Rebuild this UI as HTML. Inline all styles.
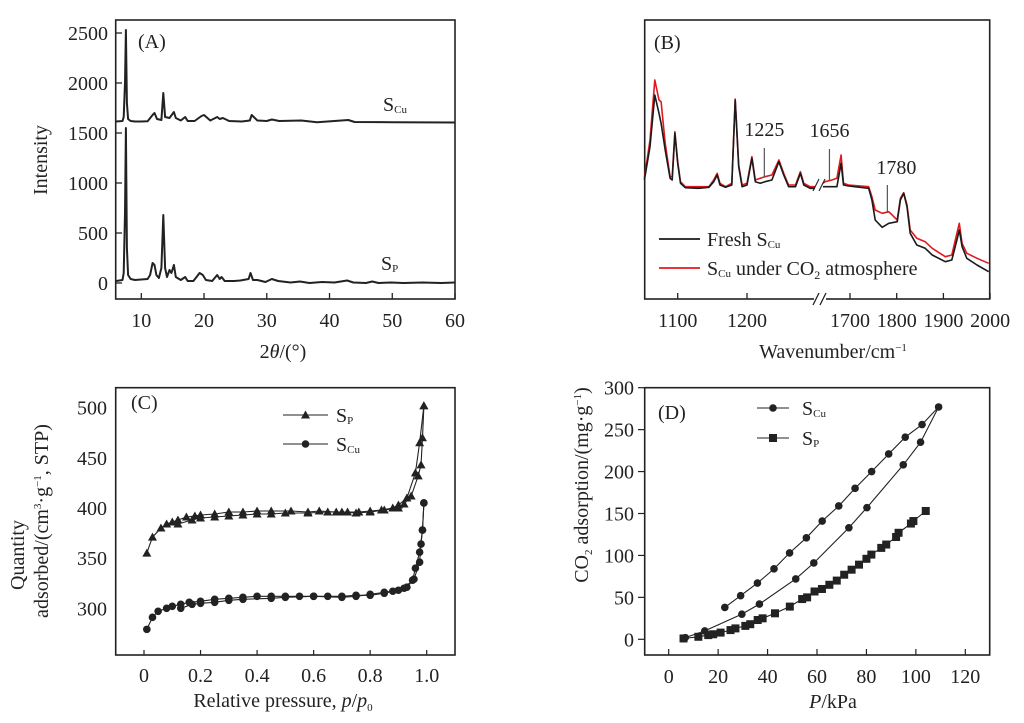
<!DOCTYPE html>
<html><head><meta charset="utf-8"><style>
html,body{margin:0;padding:0;background:#fff;}
svg{display:block;font-family:"Liberation Serif",serif;}
</style></head><body>
<svg id="fig" width="1024" height="723" viewBox="0 0 1024 723" xmlns="http://www.w3.org/2000/svg"></svg>
<script>
// ---------- Panel A data (XRD) ----------
const aTicksX=[10,20,30,40,50,60];
const aTicksY=[0,500,1000,1500,2000,2500];
const spTheta=[6,7,7.2,7.4,7.55,7.7,7.9,8.3,9,10,11,11.4,11.8,12.1,12.4,12.8,13.2,13.5,13.8,14.1,14.5,14.8,15.2,15.5,16.3,17,17.4,18.3,19.3,19.8,20.3,21.3,22.1,22.5,22.8,23.3,24.8,25.8,27.1,27.4,27.8,28.5,29.8,30.8,31.8,33.8,35.3,36.8,38.8,40.8,42.8,43.8,45.8,46.8,47.8,49.8,51.8,54.8,57.8,60];
const spInt=[20,30,100,700,1550,350,80,40,30,35,40,80,200,180,80,50,150,680,150,60,130,100,180,60,30,60,20,20,100,80,30,20,80,40,60,20,20,25,40,100,30,30,10,40,20,5,15,0,10,5,25,5,0,15,0,5,0,5,0,5];
const scuTheta=[6,7,7.2,7.4,7.55,7.7,7.9,8.3,9,10,11,11.8,12.1,12.5,13.2,13.5,13.8,14.5,15.2,15.5,16.3,17,17.4,18.5,19.6,20,21,22.1,22.5,23,24,26,27.3,27.6,28.5,30,30.8,32,35.5,38,43,44,50,55,60];
const scuInt=[1615,1620,1660,2000,2530,1800,1640,1620,1615,1615,1618,1680,1700,1640,1630,1900,1660,1650,1710,1650,1625,1660,1620,1620,1670,1680,1625,1660,1640,1650,1620,1615,1625,1680,1625,1620,1635,1620,1625,1608,1630,1610,1608,1606,1605];

// ---------- Panel B data (IR) ----------
const bTickLeft=[1100,1200];
const bTickRight=[1700,1800,1900,2000];
const bLeftWn=[1052,1060,1067,1073,1076,1082,1089,1092,1096,1100,1104,1111,1130,1145,1152,1157,1161,1169,1178,1183,1188,1193,1200,1207,1212,1219,1226,1236,1246,1253,1260,1270,1277,1282,1291,1299];
const bLeftFresh=[36,46,61.5,56,53,45,36.5,36,50,41,35,33.7,33.5,33.8,35.5,37.5,34.5,33.8,34.5,60,40,34,34.5,42.5,35.5,35,35.5,36,41.5,37.5,34,34,38,34.5,33.5,33.5];
const bLeftCO2=[36.5,48,66,60,59.5,47,37,37,50.5,41.5,35.5,34,34,34,36,38,35,34,35,60.3,40.5,34.5,35,43,36,36.5,37,37.5,42,38,34.5,34.5,38.5,35,34,34];
const bRightWn=[1636,1647,1661,1672,1681,1686,1697,1740,1747,1754,1769,1783,1801,1808,1815,1822,1829,1843,1861,1876,1904,1918,1929,1934,1940,1950,1972,1997];
const bRightFresh=[34,34,34,34,41,34.5,34.2,33.5,30,24,21.8,23,23.5,30,32,28,20,16.5,15.5,13.5,11.5,12,18,21,16,12.5,10.5,8.5];
const bRightCO2=[34.5,35.5,36,36.5,43.5,35,34.5,34,31,27,26,26.5,24,30.5,32.2,28.5,21,18.5,17.5,15.5,13,13.5,20,23,17,14,12.5,11];
const bMarks=[1225,1656,1780];

// ---------- Panel C data (N2 isotherms) ----------
const cTicksX=[0,0.2,0.4,0.6,0.8,1.0];
const cTickLabX=["0","0.2","0.4","0.6","0.8","1.0"];
const cTicksY=[300,350,400,450,500];
const spAdsP=[0.01,0.03,0.06,0.08,0.1,0.12,0.15,0.18,0.2,0.25,0.3,0.35,0.4,0.45,0.52,0.58,0.62,0.68,0.72,0.76,0.8,0.84,0.88,0.9,0.93,0.96,0.975,0.99];
const spAdsQ=[355,371,380,384,386,388,391,392,393,394,396,396,397,397,397,396,397,396,396,396,397,398,400,403,410,435,465,502];
const spDesP=[0.99,0.985,0.98,0.97,0.945,0.92,0.9,0.85,0.8,0.75,0.7,0.65,0.58,0.5,0.45,0.4,0.35,0.3,0.25,0.2,0.17,0.12];
const spDesQ=[502,470,443,432,412,404,400,398,396,395,396,396,395,395,394,394,393,392,391,390,388,384];
const cuAdsP=[0.01,0.03,0.05,0.08,0.1,0.13,0.16,0.2,0.25,0.3,0.35,0.4,0.45,0.5,0.55,0.6,0.65,0.7,0.75,0.8,0.85,0.88,0.92,0.95,0.96,0.975,0.985,0.99];
const cuAdsQ=[279,291,297,300,302,304,306,307,309,310,311,312,312,312,312,312,312,312,313,313,315,317,320,328,340,356,378,405];
const cuDesP=[0.99,0.985,0.98,0.975,0.955,0.93,0.9,0.85,0.8,0.75,0.7,0.6,0.5,0.45,0.35,0.3,0.25,0.2,0.17,0.13];
const cuDesQ=[405,378,364,346,329,321,318,316,314,312,311,312,311,310,309,308,306,305,304,300];

// ---------- Panel D data (CO2 adsorption) ----------
const dTicksX=[0,20,40,60,80,100,120];
const dTicksY=[0,50,100,150,200,250,300];
const dCuP=[6.7,14.6,29.6,36.7,51.4,58.7,72.9,80.2,94.9,101.9,109.2,102.5,95.7,89,82.1,75.4,68.8,62.1,55.7,48.9,42.6,35.9,29.1,22.7];
const dCuQ=[2,10,30,42,72,91,133,157,208,235,277,256,241,221,200,180,159,141,121,103,84,67,52,38];
const dPP=[6,12,16,18,21,25,27,31,33,36,38,43,49,54,56,59,62,65,68,71,74,77,80,82,86,88,92,93,98,99,104];
const dPQ=[1,3,5,6,8,11,13,16,18,23,25,31,39,48,50,57,60,65,70,77,83,89,96,101,109,113,122,127,138,141,153];

const NS="http://www.w3.org/2000/svg";
const svg=document.getElementById('fig');
const FS=20;
function mk(tag,attrs,parent){const e=document.createElementNS(NS,tag);for(const k in attrs)e.setAttribute(k,attrs[k]);(parent||svg).appendChild(e);return e;}
function txt(x,y,s,size,anchor,parent,extra){const t=mk('text',Object.assign({x:x,y:y,'font-size':size,'text-anchor':anchor||'middle',fill:'#222'},extra||{}),parent);t.innerHTML=s;return t;}
function lin(d0,d1,r0,r1){return v=>r0+(v-d0)*(r1-r0)/(d1-d0);}
function pathD(xs,ys,fx,fy){return xs.map((v,i)=>(i?'L':'M')+fx(v).toFixed(1)+','+fy(ys[i]).toFixed(1)).join('');}
function box(x0,y0,x1,y1,g){mk('rect',{x:x0,y:y0,width:x1-x0,height:y1-y0,fill:'none',stroke:'#222','stroke-width':1.6},g);}

// ===== Panel A =====
const gA=mk('g',{});


const ax=lin(10,60,141.3,455), ay=lin(0,2500,283,33);
box(115.7,20,455,299,gA);
aTicksX.forEach(v=>{mk('line',{x1:ax(v),x2:ax(v),y1:299,y2:293,stroke:'#222','stroke-width':1.3},gA);const t=txt(ax(v),327,v,FS,'middle',gA);});
aTicksY.forEach(v=>{mk('line',{x1:115.7,x2:122,y1:ay(v),y2:ay(v),stroke:'#222','stroke-width':1.3},gA);const t=txt(108,ay(v)+7,v,FS,'end',gA);});
const pSp=mk('path',{d:pathD(spTheta,spInt,ax,ay),fill:'none',stroke:'#222','stroke-width':2,'stroke-linejoin':'round'},gA);


const pCu=mk('path',{d:pathD(scuTheta,scuInt,ax,ay),fill:'none',stroke:'#222','stroke-width':2,'stroke-linejoin':'round'},gA);


txt(138,48,'(A)',FS,'start',gA);
txt(383,111,'S<tspan font-size="11" dy="2">Cu</tspan>',FS,'start',gA);
txt(381,270,'S<tspan font-size="11" dy="2">P</tspan>',FS,'start',gA);
txt(283,358,'2<tspan font-style="italic">θ</tspan>/(°)',FS,'middle',gA);
txt(0,0,'Intensity',FS,'middle',gA,{transform:'translate(47,160) rotate(-90)'});

// ===== Panel B =====
const gB=mk('g',{});


const bxl=lin(1100,1200,677.7,747), bxr=lin(1700,1800,850,896.7), by=lin(0,84,300,20);
box(644.7,20,989.7,299,gB);
bTickLeft.forEach(v=>{mk('line',{x1:bxl(v),x2:bxl(v),y1:299,y2:293,stroke:'#222','stroke-width':1.3},gB);txt(bxl(v),327,v,FS,'middle',gB);});
bTickRight.forEach(v=>{mk('line',{x1:bxr(v),x2:bxr(v),y1:299,y2:293,stroke:'#222','stroke-width':1.3},gB);txt(bxr(v),327,v,FS,'middle',gB);});
mk('rect',{x:814,y:295,width:12,height:8,fill:'#fff'},gB);
mk('path',{d:'M813,305L819,293M820,305L826,293',stroke:'#222','stroke-width':1.3,fill:'none'},gB);
[[bLeftFresh,bRightFresh,'#1a1a1a','ir-fresh-line'],[bLeftCO2,bRightCO2,'#e0191f','ir-co2-line']].reverse().forEach(s=>{
  const p1=mk('path',{d:pathD(bLeftWn,s[0],bxl,by),fill:'none',stroke:s[2],'stroke-width':1.6,'stroke-linejoin':'round'},gB);
  
  
  const p2=mk('path',{d:pathD(bRightWn,s[1],bxr,by),fill:'none',stroke:s[2],'stroke-width':1.6,'stroke-linejoin':'round'},gB);
  
  
});
mk('rect',{x:815,y:172,width:8,height:26,fill:'#fff'},gB);
mk('path',{d:'M813,191L819,179M819,191L825,179',stroke:'#222','stroke-width':1.1,fill:'none'},gB);
const bmY=[[148,177,136],[149,180,137],[185,213,174]];
bMarks.forEach((v,i)=>{const x=v<1500?bxl(v):bxr(v);mk('line',{x1:x,x2:x,y1:bmY[i][0],y2:bmY[i][1],stroke:'#555','stroke-width':1.2},gB);const t=txt(x+(i==2?9:0),bmY[i][2],v,FS,'middle',gB);});
txt(654,49,'(B)',FS,'start',gB);
const lb1=mk('line',{x1:659,x2:700,y1:239,y2:239,stroke:'#1a1a1a','stroke-width':1.8},gB);


txt(707,246,'Fresh S<tspan font-size="11" dy="2">Cu</tspan>',FS,'start',gB);
const lb2=mk('line',{x1:659,x2:700,y1:268,y2:268,stroke:'#e0191f','stroke-width':1.8},gB);


txt(707,275,'S<tspan font-size="11" dy="2">Cu</tspan><tspan dy="-2"> under CO</tspan><tspan font-size="12" dy="4">2</tspan><tspan dy="-4"> atmosphere</tspan>',FS,'start',gB);
txt(833,358,'Wavenumber/cm<tspan font-size="11" dy="-7">−1</tspan>',FS,'middle',gB);

// ===== Panel C =====
const gC=mk('g',{});


const cx=lin(0,1,144,426.7), cy=lin(300,500,608.3,407.7);
box(115.7,387.7,455,655,gC);
cTicksX.forEach((v,i)=>{mk('line',{x1:cx(v),x2:cx(v),y1:655,y2:650,stroke:'#222','stroke-width':1.2},gC);txt(cx(v),682,cTickLabX[i],FS,'middle',gC);});
cTicksY.forEach(v=>{txt(107,cy(v)+7,v,FS,'end',gC);});
function series(g,xs,ys,fx,fy,marker,name){
  const p=mk('path',{d:pathD(xs,ys,fx,fy),fill:'none',stroke:'#222','stroke-width':1.1},g);
  
  
  xs.forEach((v,i)=>{const X=fx(v),Y=fy(ys[i]);let m;
    if(marker==='tri')m=mk('path',{d:`M${X},${Y-4.5}L${X+4.5},${Y+3.5}L${X-4.5},${Y+3.5}Z`,fill:'#222'},g);
    else if(marker==='sq')m=mk('rect',{x:X-4,y:Y-4,width:8,height:8,fill:'#222'},g);
    else m=mk('circle',{cx:X,cy:Y,r:3.8,fill:'#222'},g);
    
    
  });
}
series(gC,spAdsP,spAdsQ,cx,cy,'tri','sp-adsorption');
series(gC,spDesP,spDesQ,cx,cy,'tri','sp-desorption');
series(gC,cuAdsP,cuAdsQ,cx,cy,'circ','scu-adsorption');
series(gC,cuDesP,cuDesQ,cx,cy,'circ','scu-desorption');
txt(131,409,'(C)',FS,'start',gC);
mk('line',{x1:283,x2:328,y1:415,y2:415,stroke:'#222','stroke-width':1.1},gC);
mk('path',{d:'M305.5,410.5L310,418.5L301,418.5Z',fill:'#222'},gC);
txt(336,422,'S<tspan font-size="11" dy="2">P</tspan>',FS,'start',gC);
mk('line',{x1:283,x2:328,y1:444,y2:444,stroke:'#222','stroke-width':1.1},gC);
mk('circle',{cx:305.5,cy:444,r:3.8,fill:'#222'},gC);
txt(336,451,'S<tspan font-size="11" dy="2">Cu</tspan>',FS,'start',gC);
txt(283,707,'Relative pressure, <tspan font-style="italic">p</tspan>/<tspan font-style="italic">p</tspan><tspan font-size="11" dy="4">0</tspan>',FS,'middle',gC);
txt(0,0,'Quantity',FS,'middle',gC,{transform:'translate(24,555) rotate(-90)'});
txt(0,0,'adsorbed/(cm<tspan font-size="11" dy="-7">3</tspan><tspan dy="7">·g</tspan><tspan font-size="11" dy="-7">−1</tspan><tspan dy="7">, STP)</tspan>',FS,'middle',gC,{transform:'translate(48,521) rotate(-90)'});

// ===== Panel D =====
const gD=mk('g',{});


const dx=lin(0,120,668.7,965.3), dy=lin(0,300,639.3,387.7);
box(644.7,387.7,989.7,655,gD);
dTicksX.forEach(v=>{mk('line',{x1:dx(v),x2:dx(v),y1:655,y2:649,stroke:'#222','stroke-width':1.2},gD);txt(dx(v),683,v,FS,'middle',gD);});
dTicksY.forEach(v=>{mk('line',{x1:638,x2:644.7,y1:dy(v),y2:dy(v),stroke:'#222','stroke-width':1.2},gD);txt(634,dy(v)+7,v,FS,'end',gD);});
series(gD,dCuP,dCuQ,dx,dy,'circ','scu-co2');
series(gD,dPP,dPQ,dx,dy,'sq','sp-co2');
txt(658,419,'(D)',FS,'start',gD);
mk('line',{x1:757,x2:789,y1:408,y2:408,stroke:'#222','stroke-width':1.1},gD);
mk('circle',{cx:773,cy:408,r:3.8,fill:'#222'},gD);
txt(802,415,'S<tspan font-size="11" dy="2">Cu</tspan>',FS,'start',gD);
mk('line',{x1:757,x2:789,y1:438,y2:438,stroke:'#222','stroke-width':1.1},gD);
mk('rect',{x:769,y:434,width:8,height:8,fill:'#222'},gD);
txt(802,445,'S<tspan font-size="11" dy="2">P</tspan>',FS,'start',gD);
txt(833,708,'<tspan font-style="italic">P</tspan>/kPa',FS,'middle',gD);
txt(0,0,'CO<tspan font-size="11" dy="4">2</tspan><tspan dy="-4"> adsorption/(mg·g</tspan><tspan font-size="11" dy="-7">−1</tspan><tspan dy="7">)</tspan>',FS,'middle',gD,{transform:'translate(588,485) rotate(-90)'});
</script>
</body></html>
